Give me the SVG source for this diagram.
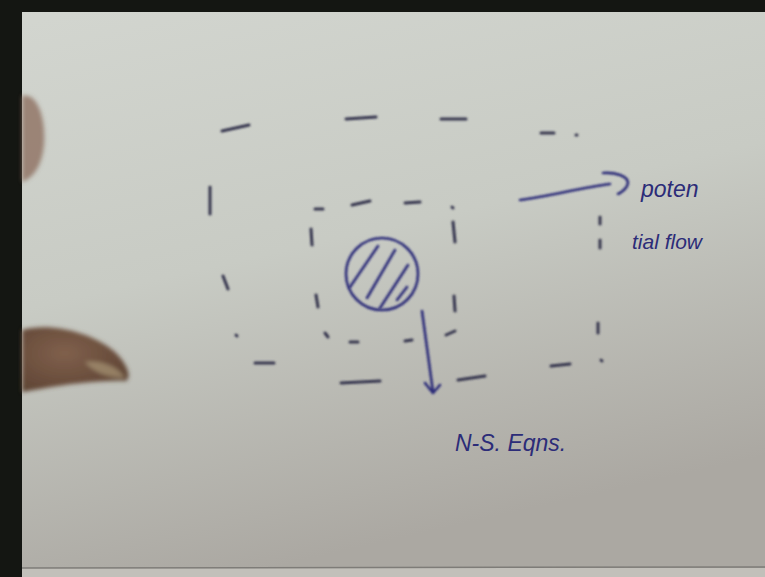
<svg xmlns="http://www.w3.org/2000/svg" width="765" height="577" viewBox="0 0 765 577">
<defs>
<linearGradient id="paper" x1="0" y1="0" x2="0.3" y2="1">
<stop offset="0" stop-color="#d3d6d0"/>
<stop offset="0.5" stop-color="#c8cbc4"/>
<stop offset="1" stop-color="#aba8a2"/>
</linearGradient>
<radialGradient id="skin" cx="0.4" cy="0.4" r="0.7">
<stop offset="0" stop-color="#80604c"/>
<stop offset="1" stop-color="#5e4434"/>
</radialGradient>
<filter id="blur" filterUnits="userSpaceOnUse" x="0" y="0" width="765" height="577"><feGaussianBlur stdDeviation="0.8"/></filter>
<filter id="blur2" filterUnits="userSpaceOnUse" x="0" y="0" width="765" height="577"><feGaussianBlur stdDeviation="2"/></filter>
</defs>
<style>
.d{stroke:#36364e;stroke-width:3;stroke-linecap:round;fill:none;filter:url(#blur)}
.ink{stroke:#2c2c78;stroke-width:2.6;stroke-linecap:round;stroke-linejoin:round;fill:none;filter:url(#blur)}
.t{font-family:"Liberation Sans",Arial,sans-serif;fill:#2c2c78;font-style:italic}
</style>
<rect width="765" height="577" fill="url(#paper)"/>
<rect x="0" y="568" width="765" height="9" fill="#c2c0ba"/>
<line x1="22" y1="568" x2="765" y2="567" stroke="#7e7c78" stroke-width="1.5"/>
<rect x="0" y="0" width="765" height="12" fill="#141612"/>
<rect x="0" y="0" width="22" height="577" fill="#141612"/>
<g id="hand" filter="url(#blur2)">
<path d="M22,96 C38,92 46,120 44,145 C42,165 34,178 22,182 Z" fill="#8a6a5a" opacity="0.75"/>
<path d="M22,330 C50,322 92,332 115,352 C127,364 132,376 126,381 C100,380 70,384 40,389 L22,392 Z" fill="url(#skin)"/>
<path d="M85,362 C100,360 118,366 125,378 C110,378 95,374 85,362 Z" fill="#a89676" opacity="0.7"/>
</g>
<g id="outer-box">
<line class="d" x1="222" y1="131" x2="249" y2="125"/>
<line class="d" x1="346" y1="119" x2="376" y2="117"/>
<line class="d" x1="441" y1="119" x2="466" y2="119"/>
<line class="d" x1="541" y1="133" x2="554" y2="133"/>
<line class="d" x1="576" y1="135" x2="577" y2="135"/>
<line class="d" x1="210" y1="187" x2="210" y2="214"/>
<line class="d" x1="223" y1="276" x2="228" y2="289"/>
<line class="d" x1="236" y1="335" x2="237" y2="336"/>
<line class="d" x1="255" y1="363" x2="274" y2="363"/>
<line class="d" x1="341" y1="383" x2="380" y2="381"/>
<line class="d" x1="458" y1="380" x2="485" y2="376"/>
<line class="d" x1="551" y1="366" x2="570" y2="364"/>
<line class="d" x1="600" y1="217" x2="600" y2="224"/>
<line class="d" x1="600" y1="240" x2="600" y2="248"/>
<line class="d" x1="598" y1="323" x2="598" y2="333"/>
<line class="d" x1="601" y1="360" x2="602" y2="361"/>
</g>
<g id="inner-box">
<line class="d" x1="315" y1="209" x2="323" y2="209"/>
<line class="d" x1="352" y1="205" x2="370" y2="201"/>
<line class="d" x1="405" y1="203" x2="420" y2="202"/>
<line class="d" x1="452" y1="207" x2="453" y2="208"/>
<line class="d" x1="311" y1="229" x2="312" y2="245"/>
<line class="d" x1="316" y1="295" x2="318" y2="307"/>
<line class="d" x1="453" y1="222" x2="455" y2="242"/>
<line class="d" x1="454" y1="296" x2="455" y2="311"/>
<line class="d" x1="325" y1="333" x2="328" y2="337"/>
<line class="d" x1="350" y1="342" x2="358" y2="342"/>
<line class="d" x1="405" y1="341" x2="412" y2="340"/>
<line class="d" x1="446" y1="335" x2="455" y2="331"/>
</g>
<g id="body">
<circle class="ink" cx="382" cy="274" r="36" stroke="#3636a0" fill="#c9cde6" fill-opacity="0.4"/>
<line class="ink" stroke="#3636a0" x1="378" y1="246" x2="350" y2="287"/>
<line class="ink" stroke="#3636a0" x1="395" y1="250" x2="367" y2="298"/>
<line class="ink" stroke="#3636a0" x1="408" y1="265" x2="380" y2="308"/>
<line class="ink" stroke="#3636a0" x1="407" y1="287" x2="397" y2="300"/>
</g>
<g id="connectors">
<path class="ink" stroke="#4a4a68" d="M422,311 L433,392 M425,383 L433,393 L440,385"/>
<path class="ink" d="M520,200 C550,196 580,188 610,184 M603,173 C615,172 628,176 628,183 C627,188 622,192 618,194"/>
</g>
<g id="labels">
<text class="t" x="641" y="197" font-size="23">poten</text>
<text class="t" x="632" y="249" font-size="21">tial flow</text>
<text class="t" x="455" y="451" font-size="23">N-S. Eqns.</text>
</g>
</svg>
